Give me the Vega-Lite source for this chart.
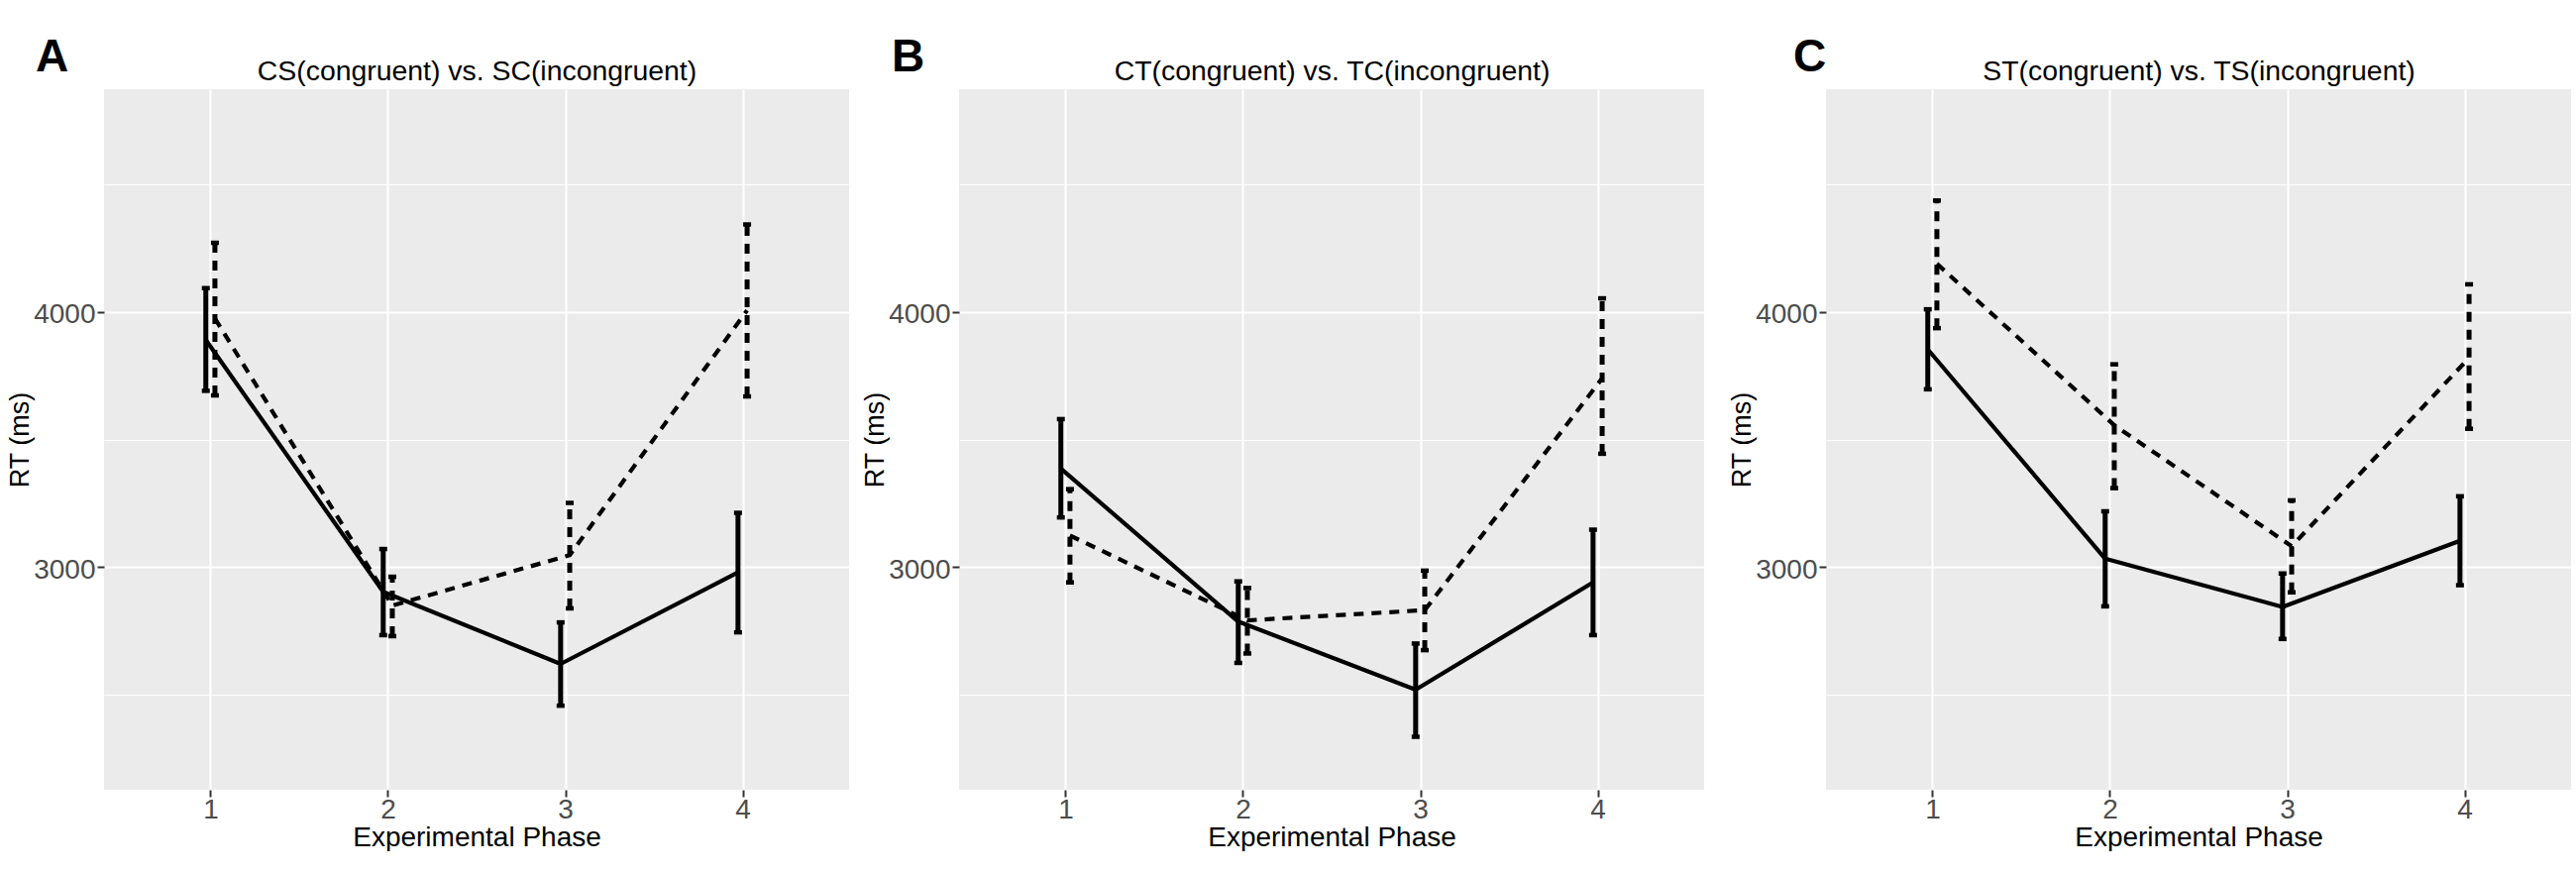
{
  "$schema": "https://vega.github.io/schema/vega-lite/v6.json",
  "background": "white",
  "padding": {"left": 6, "top": 34, "right": 0, "bottom": 0},
  "config": {
    "font": "Liberation Sans",
    "view": {"fill": "#EBEBEB", "stroke": null},
    "axis": {
      "domain": false,
      "tickColor": "#333333",
      "tickWidth": 2,
      "tickSize": 7,
      "labelColor": "#4D4D4D",
      "labelFontSize": 28,
      "labelFont": "Liberation Sans",
      "titleColor": "black",
      "titleFontWeight": "normal",
      "titleFont": "Liberation Sans",
      "gridColor": "white",
      "gridWidth": 2
    },
    "title": {"font": "Liberation Sans", "color": "black"}
  },
  "data": {
    "values": [
      {"panel": "A", "cond": "congruent", "phase": 1, "rt": 3891, "lo": 3691, "hi": 4094},
      {"panel": "A", "cond": "congruent", "phase": 2, "rt": 2902, "lo": 2732, "hi": 3070},
      {"panel": "A", "cond": "congruent", "phase": 3, "rt": 2619, "lo": 2455, "hi": 2782},
      {"panel": "A", "cond": "congruent", "phase": 4, "rt": 2978, "lo": 2743, "hi": 3212},
      {"panel": "A", "cond": "incongruent", "phase": 1, "rt": 3975, "lo": 3673, "hi": 4272},
      {"panel": "A", "cond": "incongruent", "phase": 2, "rt": 2848, "lo": 2728, "hi": 2961},
      {"panel": "A", "cond": "incongruent", "phase": 3, "rt": 3046, "lo": 2837, "hi": 3251},
      {"panel": "A", "cond": "incongruent", "phase": 4, "rt": 4007, "lo": 3669, "hi": 4344},
      {"panel": "B", "cond": "congruent", "phase": 1, "rt": 3386, "lo": 3194, "hi": 3580},
      {"panel": "B", "cond": "congruent", "phase": 2, "rt": 2785, "lo": 2623, "hi": 2943},
      {"panel": "B", "cond": "congruent", "phase": 3, "rt": 2518, "lo": 2333, "hi": 2699},
      {"panel": "B", "cond": "congruent", "phase": 4, "rt": 2939, "lo": 2732, "hi": 3146},
      {"panel": "B", "cond": "incongruent", "phase": 1, "rt": 3123, "lo": 2939, "hi": 3305},
      {"panel": "B", "cond": "incongruent", "phase": 2, "rt": 2790, "lo": 2660, "hi": 2917},
      {"panel": "B", "cond": "incongruent", "phase": 3, "rt": 2830, "lo": 2673, "hi": 2985},
      {"panel": "B", "cond": "incongruent", "phase": 4, "rt": 3740, "lo": 3444, "hi": 4054},
      {"panel": "C", "cond": "congruent", "phase": 1, "rt": 3854, "lo": 3697, "hi": 4011},
      {"panel": "C", "cond": "congruent", "phase": 2, "rt": 3032, "lo": 2845, "hi": 3218},
      {"panel": "C", "cond": "congruent", "phase": 3, "rt": 2843, "lo": 2717, "hi": 2974},
      {"panel": "C", "cond": "congruent", "phase": 4, "rt": 3102, "lo": 2928, "hi": 3277},
      {"panel": "C", "cond": "incongruent", "phase": 1, "rt": 4190, "lo": 3937, "hi": 4438},
      {"panel": "C", "cond": "incongruent", "phase": 2, "rt": 3556, "lo": 3309, "hi": 3795},
      {"panel": "C", "cond": "incongruent", "phase": 3, "rt": 3081, "lo": 2900, "hi": 3261},
      {"panel": "C", "cond": "incongruent", "phase": 4, "rt": 3820, "lo": 3542, "hi": 4109}
    ]
  },
  "align": "none",
  "spacing": 12,
  "hconcat": [
    {
      "width": 752,
      "height": 707,
      "title": {"text": "A", "anchor": "start", "frame": "bounds", "fontSize": 46, "fontWeight": "bold", "baseline": "bottom", "offset": -70.5, "dx": 30},
      "transform": [{"filter": "datum.panel === 'A'"}],
      "encoding": {
        "x": {"field": "phase", "type": "quantitative", "scale": {"domain": [0.4, 4.6], "nice": false, "zero": false}, "axis": null}
      },
      "layer": [
        {
          "transform": [{"filter": "datum.cond === 'congruent'"}],
          "mark": {"type": "rule", "color": "black", "strokeWidth": 5, "xOffset": -4.7},
          "encoding": {
            "x": {"field": "phase", "type": "quantitative", "scale": {"domain": [0.4, 4.6], "nice": false, "zero": false},
              "axis": {"orient": "bottom", "values": [1, 2, 3, 4], "format": "d", "grid": true, "title": "Experimental Phase", "titleFontSize": 28, "titleBaseline": "top", "labelPadding": -1, "titlePadding": 2, "minExtent": 32, "maxExtent": 32}},
            "y": {"field": "lo", "type": "quantitative", "scale": {"domain": [2125, 4875], "nice": false, "zero": false},
              "axis": {"orient": "left", "values": [3000, 4000], "format": "d", "grid": true, "title": "RT (ms)", "titleFontSize": 27, "titleBaseline": "bottom", "labelPadding": 2, "labelOffset": 3, "titlePadding": 1, "minExtent": 70, "maxExtent": 70}},
            "y2": {"field": "hi"}
          }
        },
        {
          "transform": [{"filter": "datum.cond === 'congruent'"}, {"fold": ["lo", "hi"], "as": ["end", "val"]}],
          "mark": {"type": "tick", "orient": "horizontal", "color": "black", "size": 8, "thickness": 4.5, "xOffset": -4.7, "opacity": 1},
          "encoding": {
            "y": {"field": "val", "type": "quantitative", "scale": {"domain": [2125, 4875], "nice": false, "zero": false}, "axis": null}
          }
        },
        {
          "transform": [{"filter": "datum.cond === 'congruent'"}],
          "mark": {"type": "line", "color": "black", "strokeWidth": 4.2, "strokeJoin": "round", "xOffset": -4.7},
          "encoding": {
            "x": {"field": "phase", "type": "quantitative", "scale": {"domain": [0.4, 4.6], "nice": false, "zero": false},
              "axis": {"orient": "top", "title": "CS(congruent) vs. SC(incongruent)", "titleFontSize": 28.4, "titleBaseline": "bottom", "titlePadding": 4, "labels": false, "ticks": false, "grid": false, "minExtent": 0, "maxExtent": 0}},
            "y": {"field": "rt", "type": "quantitative", "scale": {"domain": [2125, 4875], "nice": false, "zero": false},
              "axis": {"orient": "right", "values": [2500, 3500, 4500], "title": null, "labels": false, "ticks": false, "grid": true, "gridWidth": 1.2, "minExtent": 0, "maxExtent": 0}}
          }
        },
        {
          "transform": [{"filter": "datum.cond === 'incongruent'"}],
          "mark": {"type": "rule", "color": "black", "strokeWidth": 5, "strokeDash": [10, 8], "xOffset": 4.5},
          "encoding": {
            "y": {"field": "lo", "type": "quantitative", "scale": {"domain": [2125, 4875], "nice": false, "zero": false}, "axis": null},
            "y2": {"field": "hi"}
          }
        },
        {
          "transform": [{"filter": "datum.cond === 'incongruent'"}, {"fold": ["lo", "hi"], "as": ["end", "val"]}],
          "mark": {"type": "tick", "orient": "horizontal", "color": "black", "size": 8, "thickness": 4.5, "xOffset": 4.5, "opacity": 1},
          "encoding": {
            "y": {"field": "val", "type": "quantitative", "scale": {"domain": [2125, 4875], "nice": false, "zero": false}, "axis": null}
          }
        },
        {
          "transform": [{"filter": "datum.cond === 'incongruent'"}],
          "mark": {"type": "line", "color": "black", "strokeWidth": 4.2, "strokeDash": [10, 8], "strokeJoin": "round", "xOffset": 4.5},
          "encoding": {
            "y": {"field": "rt", "type": "quantitative", "scale": {"domain": [2125, 4875], "nice": false, "zero": false}, "axis": null}
          }
        }
      ],
      "resolve": {"axis": {"x": "independent", "y": "independent"}}
    },
    {
      "align": "none",
      "spacing": 24,
      "hconcat": [
        {
          "width": 752,
          "height": 707,
          "title": {"text": "B", "anchor": "start", "frame": "bounds", "fontSize": 46, "fontWeight": "bold", "baseline": "bottom", "offset": -70.5, "dx": 31},
          "transform": [{"filter": "datum.panel === 'B'"}],
          "encoding": {
            "x": {"field": "phase", "type": "quantitative", "scale": {"domain": [0.4, 4.6], "nice": false, "zero": false}, "axis": null}
          },
          "layer": [
            {
              "transform": [{"filter": "datum.cond === 'congruent'"}],
              "mark": {"type": "rule", "color": "black", "strokeWidth": 5, "xOffset": -4.7},
              "encoding": {
                "x": {"field": "phase", "type": "quantitative", "scale": {"domain": [0.4, 4.6], "nice": false, "zero": false},
                  "axis": {"orient": "bottom", "values": [1, 2, 3, 4], "format": "d", "grid": true, "title": "Experimental Phase", "titleFontSize": 28, "titleBaseline": "top", "labelPadding": -1, "titlePadding": 2, "minExtent": 32, "maxExtent": 32}},
                "y": {"field": "lo", "type": "quantitative", "scale": {"domain": [2125, 4875], "nice": false, "zero": false},
                  "axis": {"orient": "left", "values": [3000, 4000], "format": "d", "grid": true, "title": "RT (ms)", "titleFontSize": 27, "titleBaseline": "bottom", "labelPadding": 2, "labelOffset": 3, "titlePadding": 1, "minExtent": 70, "maxExtent": 70}},
                "y2": {"field": "hi"}
              }
            },
            {
              "transform": [{"filter": "datum.cond === 'congruent'"}, {"fold": ["lo", "hi"], "as": ["end", "val"]}],
              "mark": {"type": "tick", "orient": "horizontal", "color": "black", "size": 8, "thickness": 4.5, "xOffset": -4.7, "opacity": 1},
              "encoding": {
                "y": {"field": "val", "type": "quantitative", "scale": {"domain": [2125, 4875], "nice": false, "zero": false}, "axis": null}
              }
            },
            {
              "transform": [{"filter": "datum.cond === 'congruent'"}],
              "mark": {"type": "line", "color": "black", "strokeWidth": 4.2, "strokeJoin": "round", "xOffset": -4.7},
              "encoding": {
                "x": {"field": "phase", "type": "quantitative", "scale": {"domain": [0.4, 4.6], "nice": false, "zero": false},
                  "axis": {"orient": "top", "title": "CT(congruent) vs. TC(incongruent)", "titleFontSize": 28.4, "titleBaseline": "bottom", "titlePadding": 4, "labels": false, "ticks": false, "grid": false, "minExtent": 0, "maxExtent": 0}},
                "y": {"field": "rt", "type": "quantitative", "scale": {"domain": [2125, 4875], "nice": false, "zero": false},
                  "axis": {"orient": "right", "values": [2500, 3500, 4500], "title": null, "labels": false, "ticks": false, "grid": true, "gridWidth": 1.2, "minExtent": 0, "maxExtent": 0}}
              }
            },
            {
              "transform": [{"filter": "datum.cond === 'incongruent'"}],
              "mark": {"type": "rule", "color": "black", "strokeWidth": 5, "strokeDash": [10, 8], "xOffset": 4.5},
              "encoding": {
                "y": {"field": "lo", "type": "quantitative", "scale": {"domain": [2125, 4875], "nice": false, "zero": false}, "axis": null},
                "y2": {"field": "hi"}
              }
            },
            {
              "transform": [{"filter": "datum.cond === 'incongruent'"}, {"fold": ["lo", "hi"], "as": ["end", "val"]}],
              "mark": {"type": "tick", "orient": "horizontal", "color": "black", "size": 8, "thickness": 4.5, "xOffset": 4.5, "opacity": 1},
              "encoding": {
                "y": {"field": "val", "type": "quantitative", "scale": {"domain": [2125, 4875], "nice": false, "zero": false}, "axis": null}
              }
            },
            {
              "transform": [{"filter": "datum.cond === 'incongruent'"}],
              "mark": {"type": "line", "color": "black", "strokeWidth": 4.2, "strokeDash": [10, 8], "strokeJoin": "round", "xOffset": 4.5},
              "encoding": {
                "y": {"field": "rt", "type": "quantitative", "scale": {"domain": [2125, 4875], "nice": false, "zero": false}, "axis": null}
              }
            }
          ],
          "resolve": {"axis": {"x": "independent", "y": "independent"}}
        },
        {
          "width": 752,
          "height": 707,
          "title": {"text": "C", "anchor": "start", "frame": "bounds", "fontSize": 46, "fontWeight": "bold", "baseline": "bottom", "offset": -70.5, "dx": 66},
          "transform": [{"filter": "datum.panel === 'C'"}],
          "encoding": {
            "x": {"field": "phase", "type": "quantitative", "scale": {"domain": [0.4, 4.6], "nice": false, "zero": false}, "axis": null}
          },
          "layer": [
            {
              "transform": [{"filter": "datum.cond === 'congruent'"}],
              "mark": {"type": "rule", "color": "black", "strokeWidth": 5, "xOffset": -4.7},
              "encoding": {
                "x": {"field": "phase", "type": "quantitative", "scale": {"domain": [0.4, 4.6], "nice": false, "zero": false},
                  "axis": {"orient": "bottom", "values": [1, 2, 3, 4], "format": "d", "grid": true, "title": "Experimental Phase", "titleFontSize": 28, "titleBaseline": "top", "labelPadding": -1, "titlePadding": 2, "minExtent": 32, "maxExtent": 32}},
                "y": {"field": "lo", "type": "quantitative", "scale": {"domain": [2125, 4875], "nice": false, "zero": false},
                  "axis": {"orient": "left", "values": [3000, 4000], "format": "d", "grid": true, "title": "RT (ms)", "titleFontSize": 27, "titleBaseline": "bottom", "labelPadding": 2, "labelOffset": 3, "titlePadding": 1, "minExtent": 70, "maxExtent": 70}},
                "y2": {"field": "hi"}
              }
            },
            {
              "transform": [{"filter": "datum.cond === 'congruent'"}, {"fold": ["lo", "hi"], "as": ["end", "val"]}],
              "mark": {"type": "tick", "orient": "horizontal", "color": "black", "size": 8, "thickness": 4.5, "xOffset": -4.7, "opacity": 1},
              "encoding": {
                "y": {"field": "val", "type": "quantitative", "scale": {"domain": [2125, 4875], "nice": false, "zero": false}, "axis": null}
              }
            },
            {
              "transform": [{"filter": "datum.cond === 'congruent'"}],
              "mark": {"type": "line", "color": "black", "strokeWidth": 4.2, "strokeJoin": "round", "xOffset": -4.7},
              "encoding": {
                "x": {"field": "phase", "type": "quantitative", "scale": {"domain": [0.4, 4.6], "nice": false, "zero": false},
                  "axis": {"orient": "top", "title": "ST(congruent) vs. TS(incongruent)", "titleFontSize": 28.4, "titleBaseline": "bottom", "titlePadding": 4, "labels": false, "ticks": false, "grid": false, "minExtent": 0, "maxExtent": 0}},
                "y": {"field": "rt", "type": "quantitative", "scale": {"domain": [2125, 4875], "nice": false, "zero": false},
                  "axis": {"orient": "right", "values": [2500, 3500, 4500], "title": null, "labels": false, "ticks": false, "grid": true, "gridWidth": 1.2, "minExtent": 0, "maxExtent": 0}}
              }
            },
            {
              "transform": [{"filter": "datum.cond === 'incongruent'"}],
              "mark": {"type": "rule", "color": "black", "strokeWidth": 5, "strokeDash": [10, 8], "xOffset": 4.5},
              "encoding": {
                "y": {"field": "lo", "type": "quantitative", "scale": {"domain": [2125, 4875], "nice": false, "zero": false}, "axis": null},
                "y2": {"field": "hi"}
              }
            },
            {
              "transform": [{"filter": "datum.cond === 'incongruent'"}, {"fold": ["lo", "hi"], "as": ["end", "val"]}],
              "mark": {"type": "tick", "orient": "horizontal", "color": "black", "size": 8, "thickness": 4.5, "xOffset": 4.5, "opacity": 1},
              "encoding": {
                "y": {"field": "val", "type": "quantitative", "scale": {"domain": [2125, 4875], "nice": false, "zero": false}, "axis": null}
              }
            },
            {
              "transform": [{"filter": "datum.cond === 'incongruent'"}],
              "mark": {"type": "line", "color": "black", "strokeWidth": 4.2, "strokeDash": [10, 8], "strokeJoin": "round", "xOffset": 4.5},
              "encoding": {
                "y": {"field": "rt", "type": "quantitative", "scale": {"domain": [2125, 4875], "nice": false, "zero": false}, "axis": null}
              }
            }
          ],
          "resolve": {"axis": {"x": "independent", "y": "independent"}}
        }
      ]
    }
  ]
}
